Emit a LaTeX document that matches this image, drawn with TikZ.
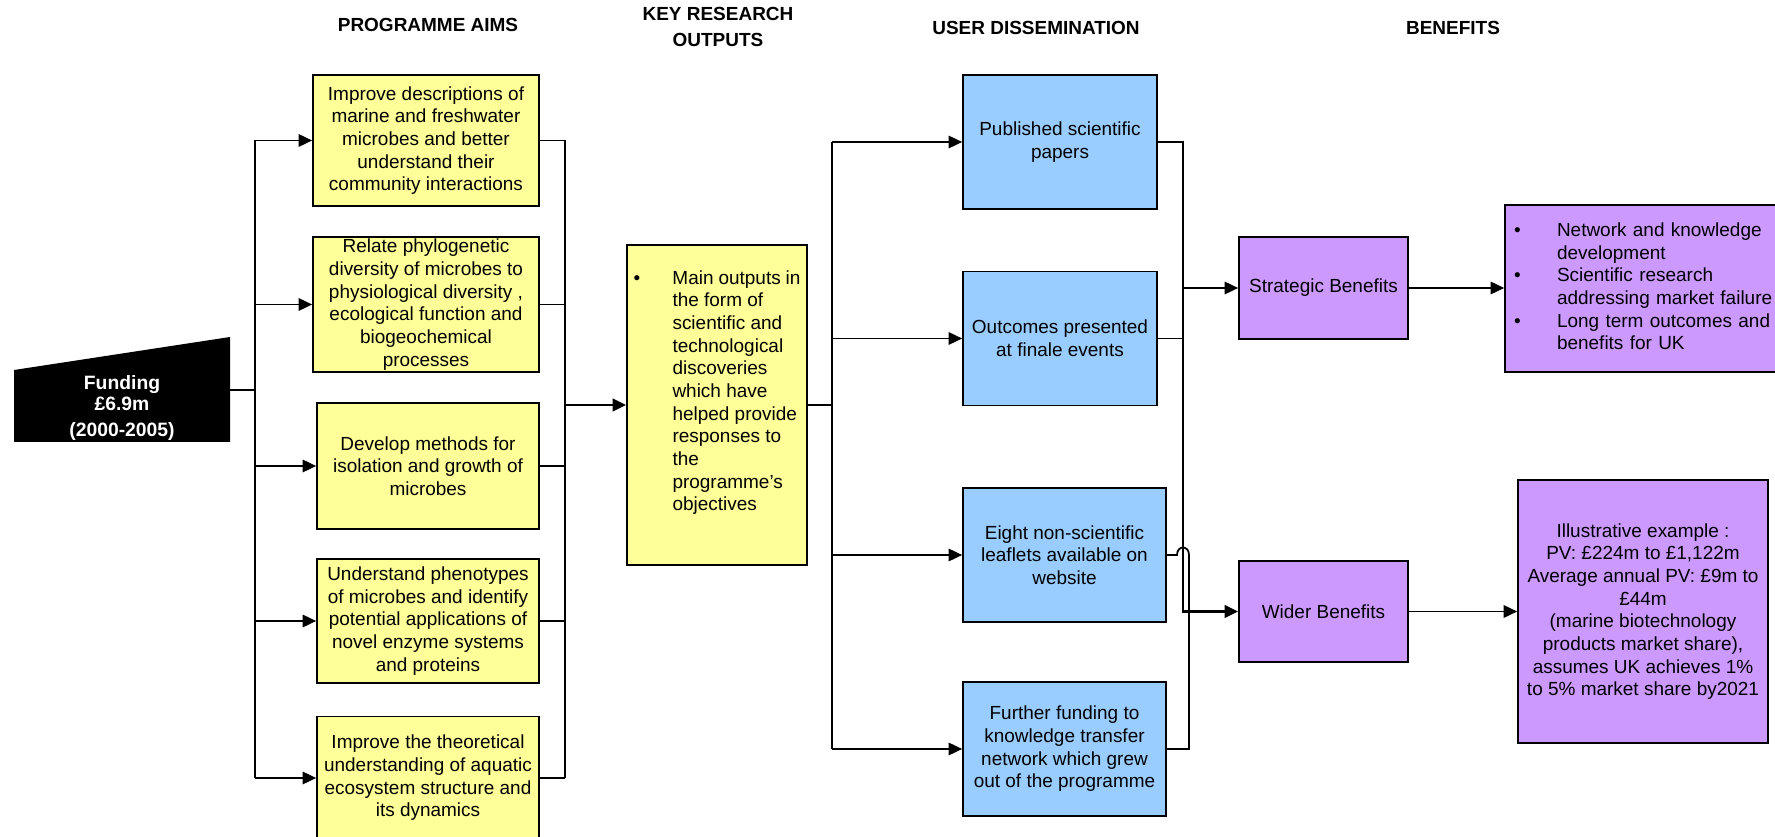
\documentclass[tikz,border=0pt]{standalone}
\usepackage{fontspec}
\setmainfont{Liberation Sans}
\usetikzlibrary{arrows.meta}

\definecolor{aimyellow}{HTML}{FFFF99}
\definecolor{userblue}{HTML}{99CCFF}
\definecolor{benpurple}{HTML}{CC99FF}

\tikzset{
  box/.style={draw, line width=1pt, inner sep=0pt, align=center,
    font=\fontsize{10.8}{12.9}\selectfont},
  aimbox/.style={box, fill=aimyellow},
  userbox/.style={box, fill=userblue, minimum height=2.68cm},
  benbox/.style={box, fill=benpurple},
  head/.style={font=\fontsize{10.8}{14.8}\selectfont\bfseries, align=center},
  link/.style={line width=1pt},
  thickline/.style={line width=1.5pt},
  arr/.style={link, -{Triangle[length=0.27cm,width=0.25cm]}},
}

\begin{document}
\begin{tikzpicture}[x=0.02cm, y=-0.02cm]
    \useasboundingbox (0,0) rectangle (1775,837);

    % 栏目标题
    \node[head] (hAims) at (428,25) {PROGRAMME AIMS};
    \node[head] (hOut) at (718,27) {KEY RESEARCH\\OUTPUTS};
    \node[head] (hUser) at (1036,28) {USER DISSEMINATION};
    \node[head] (hBen) at (1453,28) {BENEFITS};

    % 资金
    \fill[black] (14,370) -- (230,337) -- (230,442) -- (14,442) -- cycle;
    \node[text=white, align=center, font=\fontsize{11}{12}\selectfont\bfseries] (funding) at (122,408)
        {Funding\\£6.9m\\[2.5pt](2000-2005)};
    \coordinate (fundR) at (230,390);
    \coordinate (busA) at (255,390);

    % 项目目标
    \node[aimbox, minimum width=4.52cm, minimum height=2.62cm] (aim1) at (426,140.5)
        {Improve descriptions of\\marine and freshwater\\microbes and better\\understand their\\community interactions};
    \node[aimbox, minimum width=4.52cm, minimum height=2.7cm] (aim2) at (426,304.5)
        {Relate phylogenetic\\diversity of microbes to\\physiological diversity ,\\ecological function and\\biogeochemical\\processes};
    \node[aimbox, minimum width=4.44cm, minimum height=2.52cm] (aim3) at (428,466)
        {Develop methods for\\isolation and growth of\\microbes};
    \node[aimbox, minimum width=4.44cm, minimum height=2.48cm] (aim4) at (428,621)
        {Understand phenotypes\\of microbes and identify\\potential applications of\\novel enzyme systems\\and proteins};
    \node[aimbox, minimum width=4.44cm, minimum height=2.46cm] (aim5) at (428,778)
        {Improve the theoretical\\understanding of aquatic\\ecosystem structure and\\its dynamics};

    % 主要产出
    \node[aimbox, minimum width=3.6cm, minimum height=6.4cm] (main) at (717,405)
        {\begin{tabular}{@{}p{0.78cm}@{}p{2.56cm}@{}}
        \textbullet & Main outputs in\newline the form of\newline scientific and\newline technological\newline discoveries\newline which have\newline helped provide\newline responses to\newline the\newline programme’s\newline objectives\\[0.48cm]
        \end{tabular}};

    % 用户传播
    \node[userbox, minimum width=3.88cm] (blue1) at (1060,142) {Published scientific\\papers};
    \node[userbox, minimum width=3.88cm] (blue2) at (1060,338.5) {Outcomes presented\\at finale events};
    \node[userbox, minimum width=4.06cm] (blue3) at (1064.5,555) {Eight non-scientific\\leaflets available on\\website};
    \node[userbox, minimum width=4.06cm] (blue4) at (1064.5,749) {Further funding to\\knowledge transfer\\network which grew\\out of the programme};

    % 效益
    \node[benbox, minimum width=3.38cm, minimum height=2.04cm] (strat) at (1323.5,288) {Strategic Benefits};
    \node[benbox, minimum width=3.38cm, minimum height=2.02cm] (wider) at (1323.5,611.5) {Wider Benefits};
    \node[benbox, minimum height=3.34cm, text width=5.34cm, inner xsep=0.18cm, align=left] (stratres) at (1647.5,288.5)
        {\begin{tabular}{@{}p{0.86cm}@{}p{4.4cm}@{}}
        \textbullet & Network and knowledge\newline development\\
        \textbullet & Scientific research\newline addressing market failure\\
        \textbullet & Long term outcomes and\newline benefits for UK
        \end{tabular}};
    \node[benbox, minimum width=5cm, minimum height=5.26cm] (widerres) at (1643,611.5)
        {Illustrative example :\\PV: £224m to £1,122m\\Average annual PV: £9m to\\£44m\\(marine biotechnology\\products market share),\\assumes UK achieves 1\%\\to 5\% market share by2021};

    % 资金 -> 目标
    \draw[link] (fundR) -- (busA);
    \draw[link] (busA |- aim1.west) -- (busA |- aim5.west);
    \foreach \n in {1,...,5}
        \draw[arr] (busA |- aim\n.west) -- (aim\n.west);

    % 目标 -> 主要产出
    \coordinate (busB) at (565,405);
    \foreach \n in {1,...,5}
        \draw[link] (aim\n.east) -- (aim\n.east -| busB);
    \draw[link] (busB |- aim1.east) -- (busB |- aim5.east);
    \draw[arr, thickline] (busB) -- (main.west);

    % 主要产出 -> 用户传播
    \coordinate (busC) at (832,405);
    \draw[thickline] (main.east) -- (busC);
    \draw[link] (busC |- blue1.west) -- (busC |- blue4.west);
    \foreach \n in {1,...,4}
        \draw[arr] (busC |- blue\n.west) -- (blue\n.west);

    % 用户传播 -> 效益
    \coordinate (busD) at (1183,142);
    \draw[arr, thickline] (blue1.east) -- (busD) -- (busD |- wider.west) -- (wider.west);
    \draw[link] (blue2.east) -- (blue2.east -| busD);
    \draw[arr] (busD |- strat.west) -- (strat.west);
    \coordinate (hopL) at (1177,555);
    \coordinate (hopR) at (1189,555);
    \draw[link] (blue3.east) -- (hopL) .. controls (1177,545) and (1189,545) .. (hopR)
        -- (hopR |- blue4.east) -- (blue4.east);

    % 效益 -> 结果
    \draw[arr] (strat.east) -- (strat.east -| stratres.west);
    \draw[arr] (wider.east) -- (wider.east -| widerres.west);
\end{tikzpicture}
\end{document}
